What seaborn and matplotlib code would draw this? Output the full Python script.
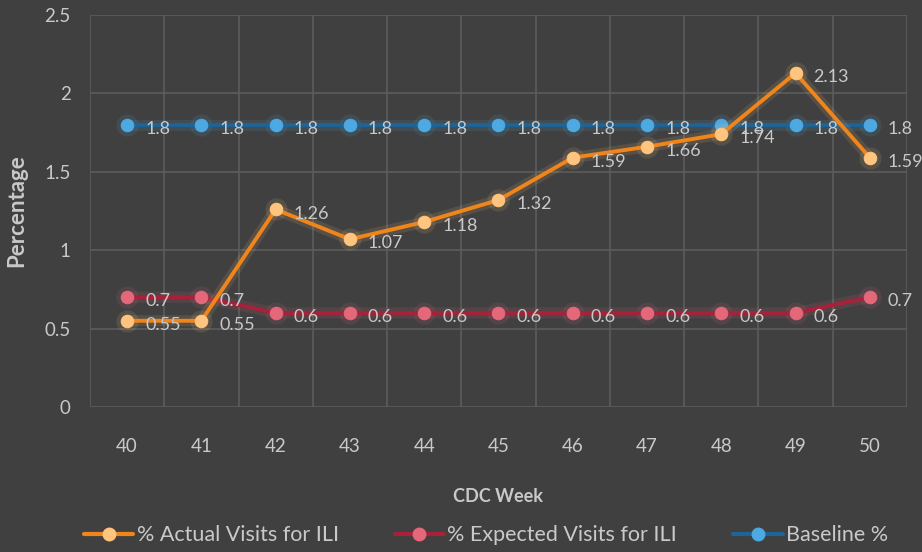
import matplotlib
matplotlib.use("Agg")
import matplotlib.pyplot as plt
from matplotlib.lines import Line2D
import seaborn as sns
import numpy as np

# ------------------------------------------------------------------
# data
# ------------------------------------------------------------------
weeks = [40, 41, 42, 43, 44, 45, 46, 47, 48, 49, 50]
actual = [0.55, 0.55, 1.26, 1.07, 1.18, 1.32, 1.59, 1.66, 1.74, 2.13, 1.59]
expected = [0.7, 0.7, 0.6, 0.6, 0.6, 0.6, 0.6, 0.6, 0.6, 0.6, 0.7]
baseline = [1.8, 1.8, 1.8, 1.8, 1.8, 1.8, 1.8, 1.8, 1.8, 1.8, 1.8]

labels = ["% Actual Visits for ILI", "% Expected Visits for ILI", "Baseline %"]
line_colors = ["#F0851C", "#A8203A", "#1E6496"]
marker_colors = ["#FFC47E", "#E4687A", "#4DA9E2"]

BG = "#404040"
TXT = "#C9C9C9"
GRID = "#5C5C5C"

sns.set_theme(style="dark")
plt.rcParams["font.family"] = ["Lato", "DejaVu Sans"]

fig = plt.figure(figsize=(9.22, 5.52), dpi=100, facecolor=BG)
ax = fig.add_axes([0.0976, 0.2627, 0.8861, 0.7101])
ax.set_facecolor(BG)

# draw order: baseline at bottom, actual on top
for vals, i in [(baseline, 2), (expected, 1), (actual, 0)]:
    z = 3 + 2 * (2 - i)
    # soft glow behind the series
    sns.lineplot(x=weeks, y=vals, ax=ax, color=marker_colors[i], linewidth=8, alpha=0.12,
                 marker="o", markersize=16, markeredgewidth=0, zorder=z)
    sns.lineplot(x=weeks, y=vals, ax=ax, color=line_colors[i], linewidth=2.8,
                 marker="o", markersize=9, markerfacecolor=marker_colors[i],
                 markeredgecolor=marker_colors[i], zorder=z + 1)

# value labels to the right of each point
for vals in [baseline, expected, actual]:
    for w, v in zip(weeks, vals):
        ax.annotate(f"{v:g}", (w, v), xytext=(13, -3), textcoords="offset points",
                    ha="left", va="center", color=TXT, fontsize=13, zorder=12)

ax.set_xlim(39.5, 50.5)
ax.set_ylim(0, 2.5)
ax.set_xticks(weeks)
ax.set_xticks(np.arange(39.5, 51, 1), minor=True)
ax.set_yticks([0, 0.5, 1, 1.5, 2, 2.5])
ax.set_yticklabels(["0", "0.5", "1", "1.5", "2", "2.5"])
ax.grid(False)
ax.grid(True, which="minor", axis="x", color=GRID, linewidth=1.2)
ax.grid(True, which="major", axis="y", color=GRID, linewidth=1.2)
ax.tick_params(axis="both", which="both", length=0, colors=TXT, labelsize=13.5)
ax.tick_params(axis="x", pad=22)
ax.tick_params(axis="y", pad=14)
for s in ax.spines.values():
    s.set_visible(False)

ax.set_xlabel("CDC Week", color=TXT, fontsize=13, fontweight="bold", labelpad=24)
ax.set_ylabel("Percentage", color=TXT, fontsize=16, fontweight="bold", labelpad=12)

handles = [Line2D([0], [0], color=line_colors[i], linewidth=3, marker="o", markersize=9,
                  markerfacecolor=marker_colors[i], markeredgecolor=marker_colors[i])
           for i in range(3)]
leg = fig.legend(handles, labels, loc="center", bbox_to_anchor=(0.527, 0.03), ncol=3,
                 frameon=False, fontsize=15.5, handlelength=2.3, handletextpad=0.15,
                 columnspacing=2.6)
for t in leg.get_texts():
    t.set_color(TXT)

fig.savefig("out.png", dpi=100, facecolor=BG)
